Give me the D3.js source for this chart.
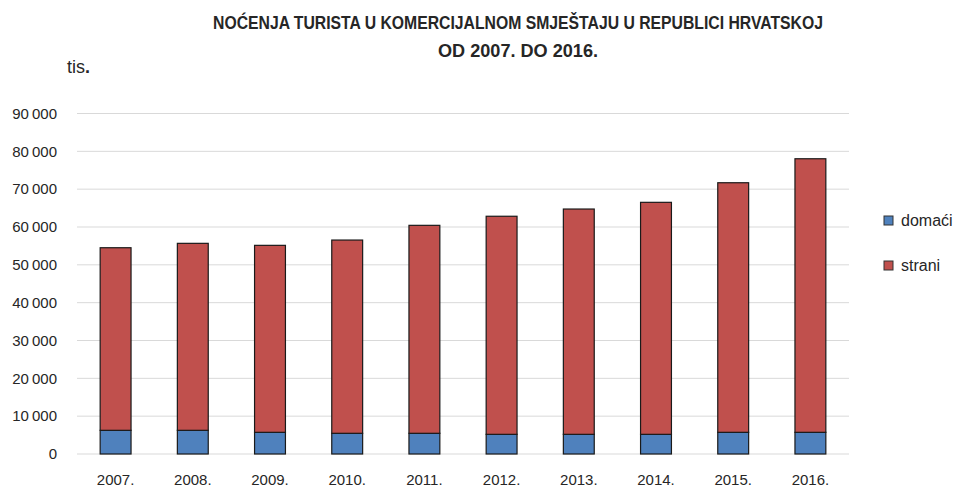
<!DOCTYPE html>
<html>
<head>
<meta charset="utf-8">
<script src="https://cdn.jsdelivr.net/npm/d3@7"></script>
<style>
	body { margin: 0; background: #fff; }
	text { font-family: "Liberation Sans", Arial, sans-serif; fill: #262626; }
</style>
</head>
<body>
<div id="chart"></div>
<script>
// data (thousands of overnight stays)
var years = ["2007.", "2008.", "2009.", "2010.", "2011.", "2012.", "2013.", "2014.", "2015.", "2016."];
var domaci = [6260, 6260, 5730, 5470, 5470, 5200, 5200, 5200, 5730, 5730];
var strani = [48260, 49420, 49420, 51080, 54970, 57640, 59550, 61320, 65970, 72310];
var yTicks = [0, 10000, 20000, 30000, 40000, 50000, 60000, 70000, 80000, 90000];
var seriesNames = ["domaći", "strani"];
var seriesColors = ["#4f81bd", "#c0504d"];

var W = 954, H = 488;
var margin = { top: 113.5, right: 105, bottom: 34, left: 77 };
var width = W - margin.left - margin.right,
	height = H - margin.top - margin.bottom;

var svg = d3.select("#chart").append("svg")
	.attr("width", W)
	.attr("height", H);

// title (condensed to the width of the original)
var title = svg.append("g").attr("font-weight", "bold").attr("font-size", 19).attr("text-anchor", "middle");
title.append("text").attr("x", 518).attr("y", 29)
	.attr("textLength", 610).attr("lengthAdjust", "spacingAndGlyphs")
	.text("NOĆENJA TURISTA U KOMERCIJALNOM SMJEŠTAJU U REPUBLICI HRVATSKOJ");
title.append("text").attr("x", 518).attr("y", 57)
	.attr("textLength", 160).attr("lengthAdjust", "spacingAndGlyphs")
	.text("OD 2007. DO 2016.");

var unit = svg.append("text").attr("x", 67).attr("y", 73).attr("font-size", 18);
unit.append("tspan").text("tis");
unit.append("tspan").attr("font-weight", "bold").text(".");

var g = svg.append("g")
	.attr("transform", "translate(" + margin.left + "," + margin.top + ")");

var x = d3.scaleBand()
	.domain(years)
	.range([0, width])
	.paddingInner(0.6)
	.paddingOuter(0.3);

var y = d3.scaleLinear()
	.domain([0, 90000])
	.range([height, 0]);

// gridlines
g.append("g")
	.selectAll("line")
	.data(yTicks)
	.enter().append("line")
	.attr("x1", 0)
	.attr("x2", width)
	.attr("y1", function (d) { return y(d); })
	.attr("y2", function (d) { return y(d); })
	.attr("stroke", "#d9d9d9")
	.attr("stroke-width", 1);

// y axis labels
var fmt = function (d) {
	return d3.format(",")(d).replace(/,/g, "\u2009");
};
var yAxis = g.append("g")
	.attr("transform", "translate(-17,0)")
	.call(d3.axisLeft(y).tickValues(yTicks).tickSize(0).tickFormat(fmt));
yAxis.select(".domain").remove();
yAxis.selectAll("text")
	.attr("font-size", 15)
	.attr("font-family", null)
	.attr("fill", "#262626");

// x axis labels
var xAxis = g.append("g")
	.attr("transform", "translate(0," + height + ")")
	.call(d3.axisBottom(x).tickSize(0).tickPadding(20));
xAxis.select(".domain").remove();
xAxis.selectAll("text")
	.attr("font-size", 15)
	.attr("font-family", null)
	.attr("fill", "#262626");

// stacked bars
var rows = years.map(function (yr, i) {
	return { year: yr, "domaći": domaci[i], strani: strani[i] };
});
var stack = d3.stack().keys(seriesNames)(rows);

g.append("g")
	.selectAll("g")
	.data(stack)
	.enter().append("g")
	.attr("fill", function (d, i) { return seriesColors[i]; })
	.selectAll("rect")
	.data(function (d) { return d; })
	.enter().append("rect")
	.attr("x", function (d) { return x(d.data.year); })
	.attr("y", function (d) { return y(d[1]); })
	.attr("width", x.bandwidth())
	.attr("height", function (d) { return y(d[0]) - y(d[1]); })
	.attr("stroke", "#1a1a1a")
	.attr("stroke-width", 1.2);

// legend
var legend = svg.append("g")
	.selectAll("g")
	.data(seriesNames)
	.enter().append("g")
	.attr("transform", function (d, i) { return "translate(884," + (216 + i * 45) + ")"; });
legend.append("rect")
	.attr("width", 9)
	.attr("height", 9)
	.attr("fill", function (d, i) { return seriesColors[i]; })
	.attr("stroke", "#333")
	.attr("stroke-width", 1);
legend.append("text")
	.attr("x", 17)
	.attr("y", 9.5)
	.attr("font-size", 16)
	.text(function (d) { return d; });
</script>
</body>
</html>
